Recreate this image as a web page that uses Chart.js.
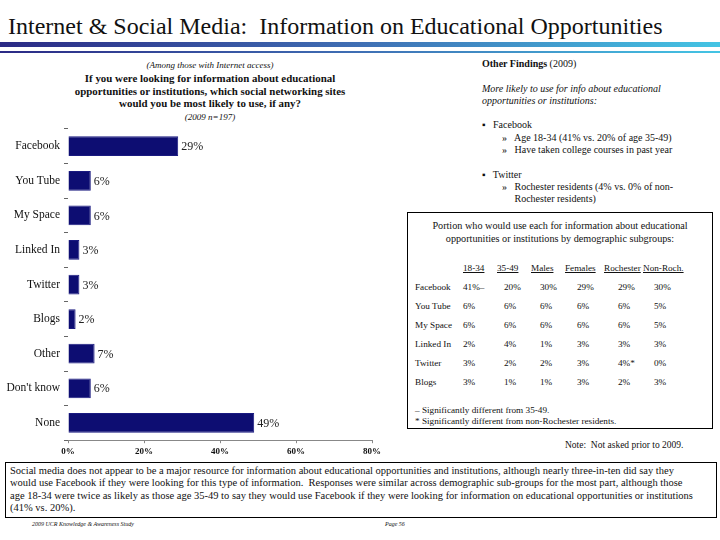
<!DOCTYPE html>
<html>
<head>
<meta charset="utf-8">
<script src="https://cdn.jsdelivr.net/npm/chart.js@4"></script>
<style>
  body { margin: 0; width: 720px; height: 540px; background: #fff; position: relative; overflow: hidden;
         font-family: "Liberation Serif", "DejaVu Serif", serif; color: #111; }
  .abs { position: absolute; white-space: pre; }
  #title { left: 8px; top: 13px; font-size: 24px; color: #111; }
  .bar1 { position: absolute; left: 0; top: 42px; width: 720px; height: 5px;
          background: linear-gradient(to right, #2b2a85, #3f6fb4 50%, #44c4e4); }
  .bar2 { position: absolute; left: 0; top: 51px; width: 720px; height: 2px;
          background: linear-gradient(to right, #2b2a85, #3f6fb4 50%, #44c4e4); }
  #question { left: 70px; top: 58px; width: 280px; text-align: center; font-size: 10.9px; line-height: 12.8px; }
  #question i { font-size: 9px; }
  #findings { left: 482px; top: 58px; font-size: 10px; line-height: 12.3px; }
  #tableBox { position: absolute; left: 407px; top: 212px; width: 304px; height: 215px; border: 1px solid #000; }
  .cell { position: absolute; font-size: 9.2px; white-space: pre; }
  #summary { position: absolute; left: 5px; top: 462px; width: 712px; height: 56px; border: 1px solid #000;
             font-size: 10.5px; line-height: 12.3px; padding: 2px 0 0 4px; box-sizing: border-box; white-space: pre; }
  #chartWrap { position: absolute; left: 0; top: 118px; width: 385px; height: 342px; }
</style>
</head>
<body>
<div id="title" class="abs">Internet &amp; Social Media:  Information on Educational Opportunities</div>
<div class="bar1"></div>
<div class="bar2"></div>

<div id="question" class="abs"><i>(Among those with Internet access)</i>
<b>If you were looking for information about educational
opportunities or institutions, which social networking sites
would you be most likely to use, if any?</b>
<i>(2009 n=197)</i></div>

<div id="findings" class="abs"><b>Other Findings</b> (2009)

<i>More likely to use for info about educational
opportunities or institutions:</i>

▪   Facebook
        »   Age 18-34 (41% vs. 20% of age 35-49)
        »   Have taken college courses in past year

▪   Twitter
        »   Rochester residents (4% vs. 0% of non-
             Rochester residents)</div>

<div id="tableBox"></div>
<div class="abs" style="left:565px; top:440px; font-size:9.5px;">Note:  Not asked prior to 2009.</div>

<div id="chartWrap"><canvas id="chart"></canvas></div>

<div id="summary">Social media does not appear to be a major resource for information about educational opportunities and institutions, although nearly three-in-ten did say they
would use Facebook if they were looking for this type of information.  Responses were similar across demographic sub-groups for the most part, although those
age 18-34 were twice as likely as those age 35-49 to say they would use Facebook if they were looking for information on educational opportunities or institutions
(41% vs. 20%).</div>
<div class="abs" style="left:32px; top:521px; font-size:6px; font-style:italic;">2009 UCR Knowledge &amp; Awareness Study</div>
<div class="abs" style="left:385px; top:521px; font-size:6px; font-style:italic;">Page 56</div>

<script>
// chart data
const categories = ['Facebook', 'You Tube', 'My Space', 'Linked In', 'Twitter', 'Blogs', 'Other', "Don't know", 'None'];
const shares = [29, 6, 6, 3, 3, 2, 7, 6, 49];
const xTicks = [0, 20, 40, 60, 80];

// subgroup table data
const groupHeaders = ['18-34', '35-49', 'Males', 'Females', 'Rochester', 'Non-Roch.'];
const tableRows = ['Facebook', 'You Tube', 'My Space', 'Linked In', 'Twitter', 'Blogs'];
const age1834 = ['41%–', '6%', '6%', '2%', '3%', '3%'];
const age3549 = ['20%', '6%', '6%', '4%', '2%', '1%'];
const males = ['30%', '6%', '6%', '1%', '2%', '1%'];
const females = ['29%', '6%', '6%', '3%', '3%', '3%'];
const rochester = ['29%', '6%', '6%', '3%', '4%*', '2%'];
const nonRoch = ['30%', '5%', '5%', '3%', '0%', '3%'];
const tableNotes = ['– Significantly different from 35-49.', '* Significantly different from non-Rochester residents.'];

function buildTable() {
    const box = document.getElementById('tableBox');
    const columns = [age1834, age3549, males, females, rochester, nonRoch];
    const headX = [55, 89, 123, 157, 196, 235];
    const valX = [55, 96, 132, 169, 210, 246];
    let html = '<div class="cell" style="left:0;width:304px;top:6px;text-align:center;line-height:13px;font-size:10.2px;">' +
        'Portion who would use each for information about educational\nopportunities or institutions by demographic subgroups:</div>';
    groupHeaders.forEach((h, i) => {
        html += `<div class="cell" style="left:${headX[i]}px;top:50px;text-decoration:underline;">${h}</div>`;
    });
    tableRows.forEach((r, j) => {
        const top = 69 + j * 19;
        html += `<div class="cell" style="left:7px;top:${top}px;">${r}</div>`;
        columns.forEach((col, i) => {
            html += `<div class="cell" style="left:${valX[i]}px;top:${top}px;">${col[j]}</div>`;
        });
    });
    tableNotes.forEach((n, k) => {
        html += `<div class="cell" style="left:7px;top:${192 + k * 11}px;">${n}</div>`;
    });
    box.innerHTML = html;
}

// draws the value label after each bar
const valueLabels = {
    id: 'valueLabels',
    afterDatasetsDraw(chart) {
        const ctx = chart.ctx;
        const meta = chart.getDatasetMeta(0);
        ctx.save();
        ctx.font = '12px "Liberation Serif"';
        ctx.fillStyle = '#222';
        ctx.textBaseline = 'middle';
        meta.data.forEach((bar, i) => {
            ctx.fillText(shares[i] + '%', bar.x + 3, bar.y + 1);
        });
        ctx.restore();
    }
};

function drawChart() {
    const ctx = document.getElementById('chart').getContext('2d');
    new Chart(ctx, {
        type: 'bar',
        data: {
            labels: categories,
            datasets: [{
                data: shares,
                backgroundColor: '#0d0d72',
                borderColor: '#1a1a80',
                borderWidth: 1,
                categoryPercentage: 1,
                barPercentage: 0.57
            }]
        },
        options: {
            indexAxis: 'y',
            responsive: true,
            maintainAspectRatio: false,
            animation: false,
            layout: { padding: { top: 9, right: 13, left: 0, bottom: 0 } },
            plugins: { legend: { display: false }, tooltip: { enabled: false } },
            scales: {
                x: {
                    min: 0,
                    max: 80,
                    afterBuildTicks: scale => { scale.ticks = xTicks.map(v => ({ value: v })); },
                    ticks: {
                        callback: v => v + '%',
                        color: '#111',
                        font: { family: 'Liberation Serif', size: 9, weight: 'bold' },
                        padding: 3,
                        maxRotation: 0
                    },
                    grid: { drawOnChartArea: false, tickLength: 3, color: '#888' },
                    border: { display: true, color: '#888' }
                },
                y: {
                    afterFit: scale => { scale.width = 68; },
                    ticks: {
                        color: '#111',
                        font: { family: 'Liberation Serif', size: 11.5 },
                        padding: 4
                    },
                    grid: { offset: true, drawOnChartArea: false, tickLength: 4, color: '#666' },
                    border: { display: false }
                }
            }
        },
        plugins: [valueLabels]
    });
}

document.addEventListener('DOMContentLoaded', () => {
    buildTable();
    drawChart();
});
</script>
</body>
</html>
